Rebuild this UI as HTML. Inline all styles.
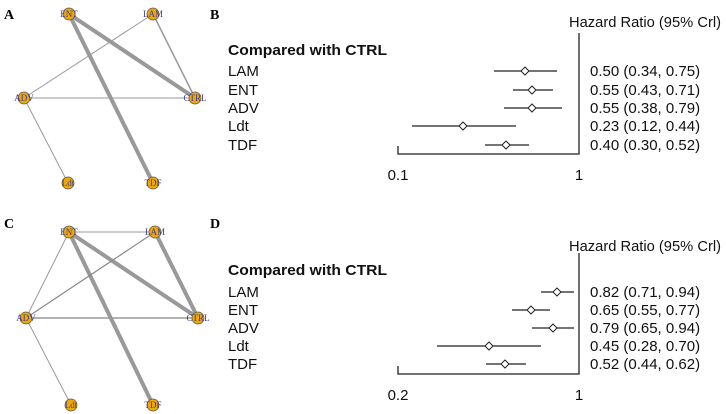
<!DOCTYPE html>
<html><head><style>body{margin:0;background:#fff}svg{display:block}</style></head><body>
<svg width="726" height="414" xmlns="http://www.w3.org/2000/svg" font-family="Liberation Sans, Arial, sans-serif">
<g font-family="Liberation Serif, serif" font-weight="bold" font-size="14">
<text x="4" y="19">A</text><text x="210" y="19">B</text>
<text x="4" y="228">C</text><text x="210" y="228">D</text>
</g>
<!-- Panel A -->
<g stroke="#999" fill="none">
<line x1="69" y1="14" x2="195" y2="98" stroke-width="4"/>
<line x1="69" y1="14" x2="153" y2="183" stroke-width="4"/>
<line x1="153" y1="14" x2="24" y2="98" stroke-width="1"/>
<line x1="153" y1="14" x2="195" y2="98" stroke-width="1.5"/>
<line x1="24" y1="98" x2="195" y2="98" stroke-width="1"/>
<line x1="24" y1="98" x2="68" y2="183" stroke-width="1"/>
</g>
<g fill="#f0a800" stroke="#555" stroke-width="0.7">
<circle cx="69" cy="14" r="6"/><circle cx="153" cy="14" r="6"/><circle cx="24" cy="98" r="6"/><circle cx="195" cy="98" r="6"/><circle cx="68" cy="183" r="6"/><circle cx="153" cy="183" r="6"/>
</g>
<g font-family="Liberation Serif, serif" font-size="9" fill="#3a3aa0" text-anchor="middle">
<text x="69" y="17">ENT</text><text x="153" y="17">LAM</text><text x="24" y="101">ADV</text><text x="195" y="101">CTRL</text><text x="68" y="186">Ldt</text><text x="153" y="186">TDF</text>
</g>
<!-- Panel C -->
<g stroke="#999" fill="none">
<line x1="69" y1="232" x2="155" y2="232" stroke-width="1"/>
<line x1="69" y1="232" x2="198" y2="318" stroke-width="4"/>
<line x1="69" y1="232" x2="153" y2="405" stroke-width="4"/>
<line x1="69" y1="232" x2="26" y2="318" stroke-width="1"/>
<line x1="155" y1="232" x2="26" y2="318" stroke-width="1.2" stroke="#888"/>
<line x1="155" y1="232" x2="198" y2="318" stroke-width="4"/>
<line x1="26" y1="318" x2="198" y2="318" stroke-width="1.5"/>
<line x1="26" y1="318" x2="71" y2="405" stroke-width="1"/>
</g>
<g fill="#f0a800" stroke="#555" stroke-width="0.7">
<circle cx="69" cy="232" r="6"/><circle cx="155" cy="232" r="6"/><circle cx="26" cy="318" r="6"/><circle cx="198" cy="318" r="6"/><circle cx="71" cy="405" r="6"/><circle cx="153" cy="405" r="6"/>
</g>
<g font-family="Liberation Serif, serif" font-size="9" fill="#3a3aa0" text-anchor="middle">
<text x="69" y="235">ENT</text><text x="155" y="235">LAM</text><text x="26" y="321">ADV</text><text x="198" y="321">CTRL</text><text x="71" y="408">Ldt</text><text x="153" y="408">TDF</text>
</g>
<!-- Panel B -->
<g font-size="15" fill="#111">
<text x="569" y="27" textLength="152" lengthAdjust="spacingAndGlyphs">Hazard Ratio (95% Crl)</text>
<text x="228" y="55" font-weight="bold" textLength="159" lengthAdjust="spacingAndGlyphs">Compared with CTRL</text>
<text x="228" y="76">LAM</text><text x="228" y="95">ENT</text><text x="228" y="113">ADV</text><text x="228" y="131">Ldt</text><text x="228" y="150">TDF</text>
<text x="590" y="76">0.50 (0.34, 0.75)</text><text x="590" y="95">0.55 (0.43, 0.71)</text><text x="590" y="113">0.55 (0.38, 0.79)</text><text x="590" y="131">0.23 (0.12, 0.44)</text><text x="590" y="150">0.40 (0.30, 0.52)</text>
<text x="398" y="180" text-anchor="middle">0.1</text><text x="579" y="180" text-anchor="middle">1</text>
</g>
<g stroke="#222" stroke-width="1.3" fill="none">
<polyline points="398,146 398,154 579,154 579,33"/>
<line x1="494" y1="71" x2="557" y2="71"/><line x1="513" y1="90" x2="553" y2="90"/><line x1="504" y1="108" x2="562" y2="108"/><line x1="412" y1="126" x2="516" y2="126"/><line x1="485" y1="145" x2="529" y2="145"/>
</g>
<g fill="#fff" stroke="#222" stroke-width="1">
<polygon points="525,67 529,71 525,75 521,71"/><polygon points="532,86 536,90 532,94 528,90"/><polygon points="532,104 536,108 532,112 528,108"/><polygon points="463,122 467,126 463,130 459,126"/><polygon points="506,141 510,145 506,149 502,145"/>
</g>
<!-- Panel D -->
<g font-size="15" fill="#111">
<text x="569" y="251" textLength="152" lengthAdjust="spacingAndGlyphs">Hazard Ratio (95% Crl)</text>
<text x="228" y="275" font-weight="bold" textLength="159" lengthAdjust="spacingAndGlyphs">Compared with CTRL</text>
<text x="228" y="297">LAM</text><text x="228" y="315">ENT</text><text x="228" y="333">ADV</text><text x="228" y="351">Ldt</text><text x="228" y="369">TDF</text>
<text x="590" y="297">0.82 (0.71, 0.94)</text><text x="590" y="315">0.65 (0.55, 0.77)</text><text x="590" y="333">0.79 (0.65, 0.94)</text><text x="590" y="351">0.45 (0.28, 0.70)</text><text x="590" y="369">0.52 (0.44, 0.62)</text>
<text x="398" y="400" text-anchor="middle">0.2</text><text x="579" y="400" text-anchor="middle">1</text>
</g>
<g stroke="#222" stroke-width="1.3" fill="none">
<polyline points="398,366 398,374 579,374 579,253"/>
<line x1="541" y1="292" x2="574" y2="292"/><line x1="512" y1="310" x2="550" y2="310"/><line x1="532" y1="328" x2="574" y2="328"/><line x1="437" y1="346" x2="541" y2="346"/><line x1="486" y1="364" x2="526" y2="364"/>
</g>
<g fill="#fff" stroke="#222" stroke-width="1">
<polygon points="557,288 561,292 557,296 553,292"/><polygon points="531,306 535,310 531,314 527,310"/><polygon points="553,324 557,328 553,332 549,328"/><polygon points="489,342 493,346 489,350 485,346"/><polygon points="505,360 509,364 505,368 501,364"/>
</g>
</svg>
</body></html>
